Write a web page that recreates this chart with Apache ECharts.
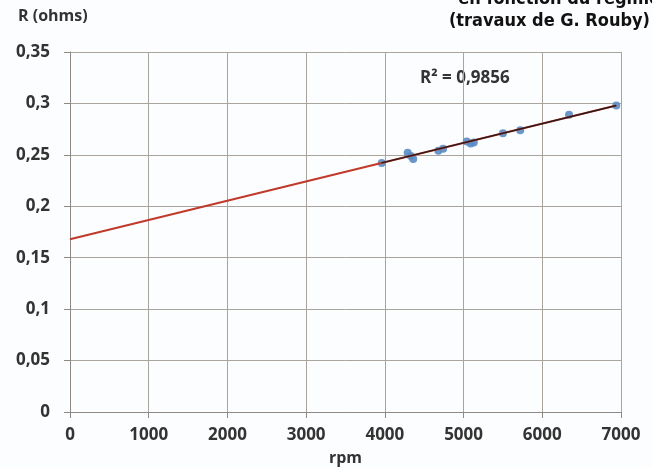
<!DOCTYPE html>
<html>
<head>
<meta charset="utf-8">
<script src="https://cdn.jsdelivr.net/npm/echarts@6/dist/echarts.min.js"></script>
<style>
	html, body { margin: 0; padding: 0; background: #fcfdfe; }
	#chart { width: 652px; height: 468px; }
</style>
</head>
<body>
<div id="chart"></div>
<script>
// points mesurés (régime / résistance)
const rpm = [3960, 4290, 4330, 4360, 4680, 4740, 5040, 5090, 5130, 5500, 5720, 6340, 6940];
const resistance = [0.242, 0.252, 0.249, 0.246, 0.254, 0.256, 0.263, 0.261, 0.262, 0.271, 0.274, 0.289, 0.298];
// courbe de tendance (prolongée vers 0 en rouge)
const trendRpm = [0, 6940];
const trendR = [0.168, 0.298];
const fitRpm = [3960, 6940];
const fitR = [0.2422, 0.298];
const xTicks = [0, 1000, 2000, 3000, 4000, 5000, 6000, 7000];
const yTicks = [0, 0.05, 0.1, 0.15, 0.2, 0.25, 0.3, 0.35];

const font = "'Open Sans', 'DejaVu Sans', sans-serif";
const gridColor = '#aaa49f';

const mChart = echarts.init(document.getElementById('chart'));

const options = {
	backgroundColor: '#fcfdfe',
	animation: false,
	grid: { left: 70, right: 31, top: 52, bottom: 56, outerBoundsMode: 'none' },
	xAxis: {
		type: 'value',
		min: xTicks[0],
		max: xTicks[xTicks.length - 1],
		interval: xTicks[1] - xTicks[0],
		name: 'rpm',
		nameLocation: 'middle',
		nameGap: 38,
		nameTextStyle: { fontFamily: font, fontSize: 16, fontWeight: 'bold', color: '#333' },
		axisLine: { lineStyle: { color: '#8e8985', width: 1 } },
		axisTick: { show: true, length: 6, lineStyle: { color: '#8e8985' } },
		splitLine: { lineStyle: { color: gridColor, width: 1 } },
		axisLabel: {
			margin: 15, fontFamily: font, fontSize: 17, fontWeight: 'bold', color: '#333',
			formatter: (v) => String(v),
		},
	},
	yAxis: {
		type: 'value',
		min: yTicks[0],
		max: yTicks[yTicks.length - 1],
		interval: yTicks[1] - yTicks[0],
		axisLine: { show: true, lineStyle: { color: '#8e8985', width: 1 } },
		axisTick: { show: true, length: 6, lineStyle: { color: '#8e8985' } },
		splitLine: { lineStyle: { color: gridColor, width: 1 } },
		axisLabel: {
			margin: 20,
			fontFamily: font,
			fontSize: 17,
			fontWeight: 'bold',
			color: '#333',
			formatter: (v) => String(+v.toFixed(2)).replace('.', ','),
		},
	},
	graphic: [
		{
			type: 'text', left: 18, top: 8,
			style: { text: 'R (ohms)', font: 'bold 16px ' + font, fill: '#333' },
		},
		{
			type: 'text', left: 420, top: 70,
			style: { text: 'R² = 0,9856', font: 'bold 17px ' + font, fill: '#333' },
		},
		{
			type: 'text', right: -8, top: -10,
			style: { text: 'en fonction du régime', font: "bold 18px 'Liberation Sans Narrow', 'DejaVu Sans Condensed', sans-serif", fill: '#111' },
		},
		{
			type: 'text', right: 2, top: 12,
			style: { text: '(travaux de G. Rouby)', font: "bold 18px 'Liberation Sans Narrow', 'DejaVu Sans Condensed', sans-serif", fill: '#111' },
		},
	],
	series: [
		{
			type: 'scatter',
			z: 2,
			symbolSize: 8,
			itemStyle: { color: '#5a8cc4', opacity: 0.9 },
			data: rpm.map((r, i) => [r, resistance[i]]),
		},
		{
			type: 'line',
			z: 3,
			symbol: 'none',
			lineStyle: { color: '#c0392b', width: 2 },
			data: trendRpm.map((r, i) => [r, trendR[i]]),
		},
		{
			type: 'line',
			z: 4,
			symbol: 'none',
			lineStyle: { color: '#2a1a1a', width: 1.5 },
			data: fitRpm.map((r, i) => [r, fitR[i]]),
		},
	],
};
mChart.setOption(options);
</script>
</body>
</html>
